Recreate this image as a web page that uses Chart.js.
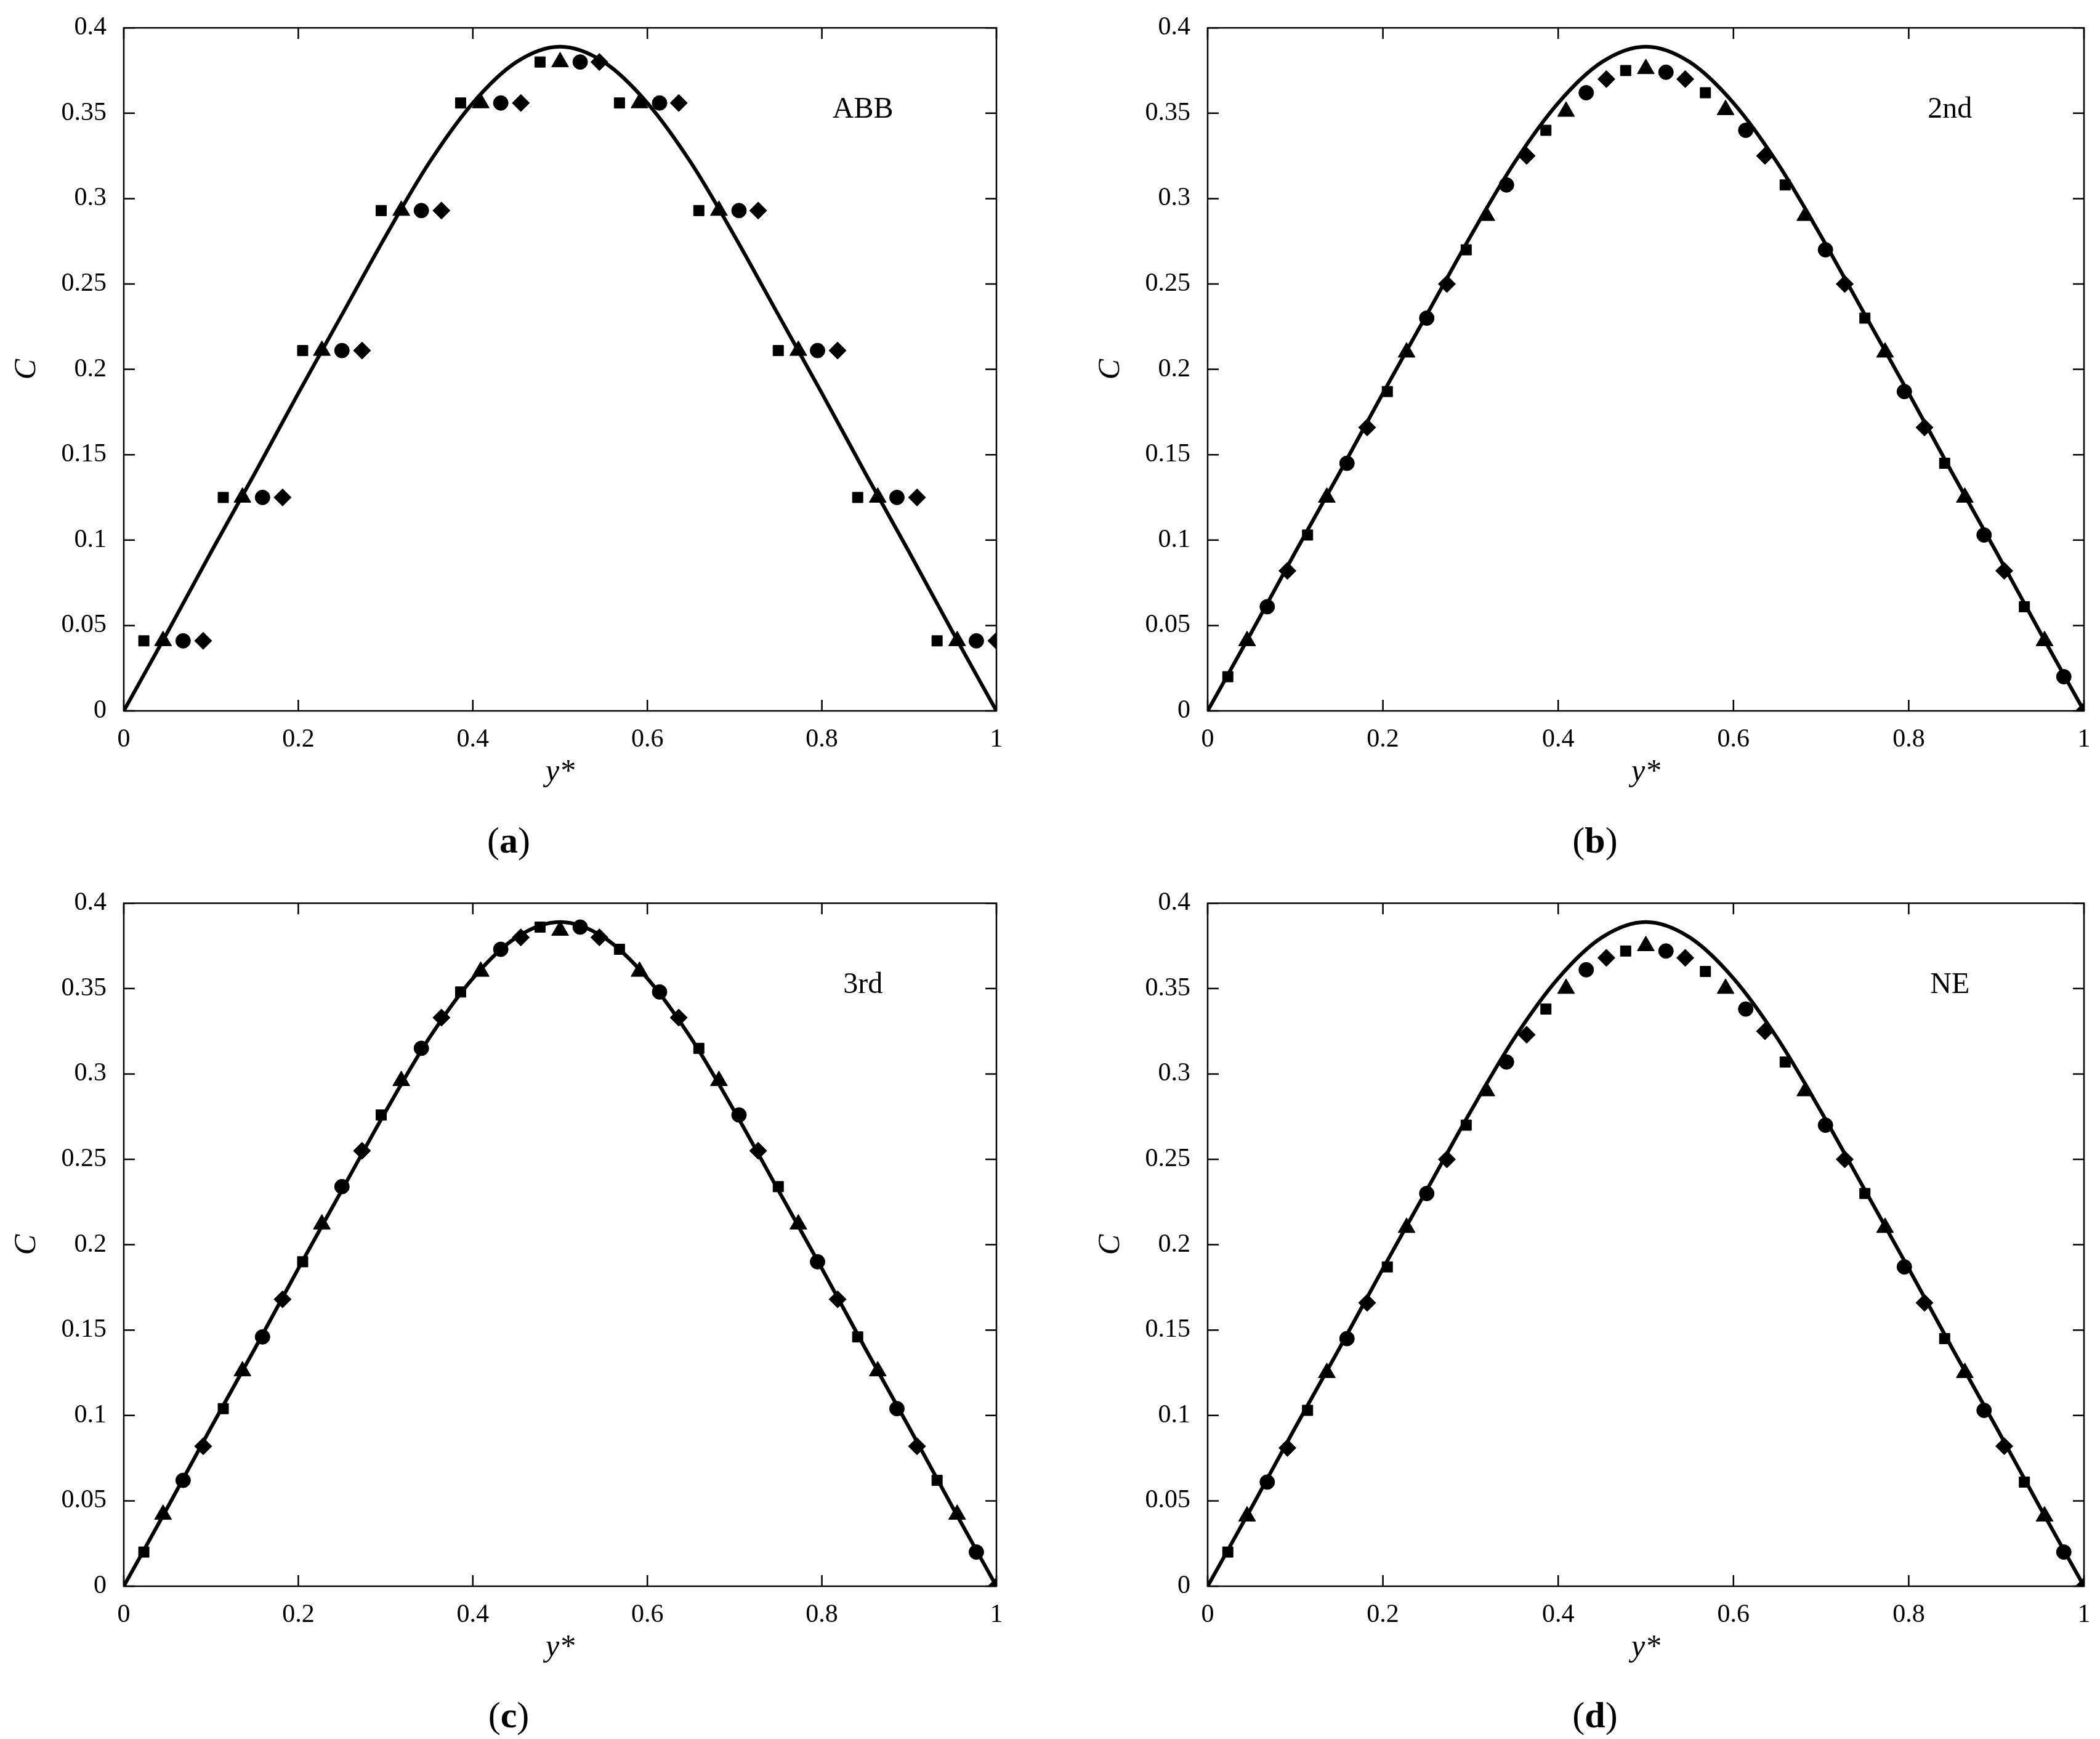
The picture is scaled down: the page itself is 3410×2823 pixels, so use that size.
<!DOCTYPE html>
<html>
<head>
<meta charset="utf-8">
<script src="https://cdn.jsdelivr.net/npm/chart.js@4.4.1/dist/chart.umd.min.js"></script>
<style>
  body { margin: 0; background: #fff; width: 3410px; height: 2823px; position: relative; overflow: hidden; }
  canvas { position: absolute; }
  .cap { position: absolute; font-family: "Liberation Serif", serif; font-size: 60px; transform: translateX(-50%); }
</style>
</head>
<body>
<canvas id="pa" style="left:0;top:0" width="1690" height="1300"></canvas>
<canvas id="pb" style="left:1760px;top:0" width="1650" height="1300"></canvas>
<canvas id="pc" style="left:0;top:1421px" width="1690" height="1300"></canvas>
<canvas id="pd" style="left:1760px;top:1421px" width="1650" height="1300"></canvas>
<div class="cap" style="left:826px;top:1330px">(<b>a</b>)</div>
<div class="cap" style="left:2590px;top:1330px">(<b>b</b>)</div>
<div class="cap" style="left:826px;top:2750px">(<b>c</b>)</div>
<div class="cap" style="left:2590px;top:2750px">(<b>d</b>)</div>
<script>
// analytical curve
var curveX = [0, 0.05, 0.1, 0.15, 0.2, 0.25, 0.3, 0.35, 0.4, 0.45, 0.5, 0.55, 0.6, 0.65, 0.7, 0.75, 0.8, 0.85, 0.9, 0.95, 1];
var curveC = [0, 0.046, 0.093, 0.139, 0.186, 0.232, 0.278, 0.321, 0.356, 0.38, 0.389, 0.38, 0.356, 0.321, 0.278, 0.232, 0.186, 0.139, 0.093, 0.046, 0];

// node positions (shared by all panels)
var nodeX = [0.023, 0.045, 0.068, 0.091, 0.114, 0.136, 0.159, 0.182, 0.205, 0.227, 0.25,
  0.273, 0.295, 0.318, 0.341, 0.364, 0.386, 0.409, 0.432, 0.455, 0.477, 0.5,
  0.523, 0.545, 0.568, 0.591, 0.614, 0.636, 0.659, 0.682, 0.705, 0.727, 0.75,
  0.773, 0.795, 0.818, 0.841, 0.864, 0.886, 0.909, 0.932, 0.955, 0.977, 1.0];
var markers = ['rect', 'triangle', 'circle', 'rectRot'];

var cABB = [0.041, 0.041, 0.041, 0.041, 0.125, 0.125, 0.125, 0.125, 0.211, 0.211, 0.211,
  0.211, 0.293, 0.293, 0.293, 0.293, 0.356, 0.356, 0.356, 0.356, 0.38, 0.38,
  0.38, 0.38, 0.356, 0.356, 0.356, 0.356, 0.293, 0.293, 0.293, 0.293, 0.211,
  0.211, 0.211, 0.211, 0.125, 0.125, 0.125, 0.125, 0.041, 0.041, 0.041, 0.041];
var c2nd = [0.02, 0.041, 0.061, 0.082, 0.103, 0.125, 0.145, 0.166, 0.187, 0.21, 0.23,
  0.25, 0.27, 0.29, 0.308, 0.325, 0.34, 0.351, 0.362, 0.37, 0.375, 0.376,
  0.374, 0.37, 0.362, 0.352, 0.34, 0.325, 0.308, 0.29, 0.27, 0.25, 0.23,
  0.21, 0.187, 0.166, 0.145, 0.125, 0.103, 0.082, 0.061, 0.041, 0.02, 0];
var c3rd = [0.02, 0.042, 0.062, 0.082, 0.104, 0.126, 0.146, 0.168, 0.19, 0.212, 0.234,
  0.255, 0.276, 0.296, 0.315, 0.333, 0.348, 0.36, 0.373, 0.38, 0.386, 0.384,
  0.386, 0.38, 0.373, 0.36, 0.348, 0.333, 0.315, 0.296, 0.276, 0.255, 0.234,
  0.212, 0.19, 0.168, 0.146, 0.126, 0.104, 0.082, 0.062, 0.042, 0.02, 0];
var cNE = [0.02, 0.041, 0.061, 0.081, 0.103, 0.125, 0.145, 0.166, 0.187, 0.21, 0.23,
  0.25, 0.27, 0.29, 0.307, 0.323, 0.338, 0.35, 0.361, 0.368, 0.372, 0.375,
  0.372, 0.368, 0.36, 0.35, 0.338, 0.325, 0.307, 0.29, 0.27, 0.25, 0.23,
  0.21, 0.187, 0.166, 0.145, 0.125, 0.103, 0.082, 0.061, 0.041, 0.02, 0];

var xTicks = [0, 0.2, 0.4, 0.6, 0.8, 1];
var yTicks = [0, 0.05, 0.1, 0.15, 0.2, 0.25, 0.3, 0.35, 0.4];
var FONT = '"Liberation Serif", "Times New Roman", serif';

var frame = {
  id: 'frame',
  afterDraw: function (chart) {
    var ctx = chart.ctx, a = chart.chartArea, sx = chart.scales.x, sy = chart.scales.y;
    ctx.save();
    ctx.strokeStyle = '#000';
    ctx.lineWidth = 2.5;
    ctx.strokeRect(a.left, a.top, a.right - a.left, a.bottom - a.top);
    var L = 18;
    ctx.beginPath();
    xTicks.forEach(function (v) {
      var p = sx.getPixelForValue(v);
      ctx.moveTo(p, a.bottom); ctx.lineTo(p, a.bottom - L);
      ctx.moveTo(p, a.top); ctx.lineTo(p, a.top + L);
    });
    yTicks.forEach(function (v) {
      var p = sy.getPixelForValue(v);
      ctx.moveTo(a.left, p); ctx.lineTo(a.left + L, p);
      ctx.moveTo(a.right, p); ctx.lineTo(a.right - L, p);
    });
    ctx.stroke();
    ctx.fillStyle = '#000';
    ctx.font = 'italic 50px ' + FONT;
    ctx.textAlign = 'center';
    ctx.textBaseline = 'middle';
    ctx.fillText('y*', (a.left + a.right) / 2, a.bottom + 100);
    ctx.save();
    ctx.translate(a.left - 157, (a.top + a.bottom) / 2);
    ctx.rotate(-Math.PI / 2);
    ctx.fillText('C', 0, 0);
    ctx.restore();
    ctx.font = '48px ' + FONT;
    ctx.fillText(chart.options.plugins.frame.label, sx.getPixelForValue(0.847), sy.getPixelForValue(0.352));
    ctx.restore();
  }
};

function build(id, vals, label, rightPad) {
  var pts = nodeX.map(function (x, i) { return { x: x, y: vals[i] }; });
  var styles = nodeX.map(function (x, i) { return markers[i % 4]; });
  var radii = nodeX.map(function (x, i) {
    var m = markers[i % 4];
    return m === 'rectRot' ? 14 : (m === 'triangle' ? 16 : 12);
  });
  new Chart(document.getElementById(id), {
    type: 'scatter',
    data: {
      datasets: [{
        type: 'line',
        data: curveX.map(function (x, i) { return { x: x, y: curveC[i] }; }),
        borderColor: '#000', borderWidth: 6, pointRadius: 0,
        cubicInterpolationMode: 'monotone', fill: false, order: 2
      }, {
        data: pts, pointStyle: styles, pointRadius: radii,
        backgroundColor: '#000', borderColor: '#000', borderWidth: 1, order: 1
      }]
    },
    options: {
      responsive: false, animation: false,
      layout: { padding: { left: 0, top: 35, right: rightPad, bottom: 0 } },
      plugins: { legend: { display: false }, tooltip: { enabled: false }, frame: { label: label } },
      scales: {
        x: {
          type: 'linear', min: 0, max: 1,
          grid: { display: false }, border: { display: false },
          afterBuildTicks: function (s) { s.ticks = xTicks.map(function (v) { return { value: v }; }); },
          afterFit: function (s) { s.height = 146; },
          ticks: { color: '#000', font: { family: FONT, size: 42 }, padding: 14, maxRotation: 0,
            callback: function (v) { return String(v); } }
        },
        y: {
          min: 0, max: 0.4,
          grid: { display: false }, border: { display: false },
          afterBuildTicks: function (s) { s.ticks = yTicks.map(function (v) { return { value: v }; }); },
          afterFit: function (s) { s.width = 201; },
          ticks: { color: '#000', font: { family: FONT, size: 42 }, padding: 20,
            callback: function (v) { return String(v); } }
        }
      }
    },
    plugins: [frame]
  });
}

build('pa', cABB, 'ABB', 72);
build('pb', c2nd, '2nd', 26);
build('pc', c3rd, '3rd', 72);
build('pd', cNE, 'NE', 26);
</script>
</body>
</html>
